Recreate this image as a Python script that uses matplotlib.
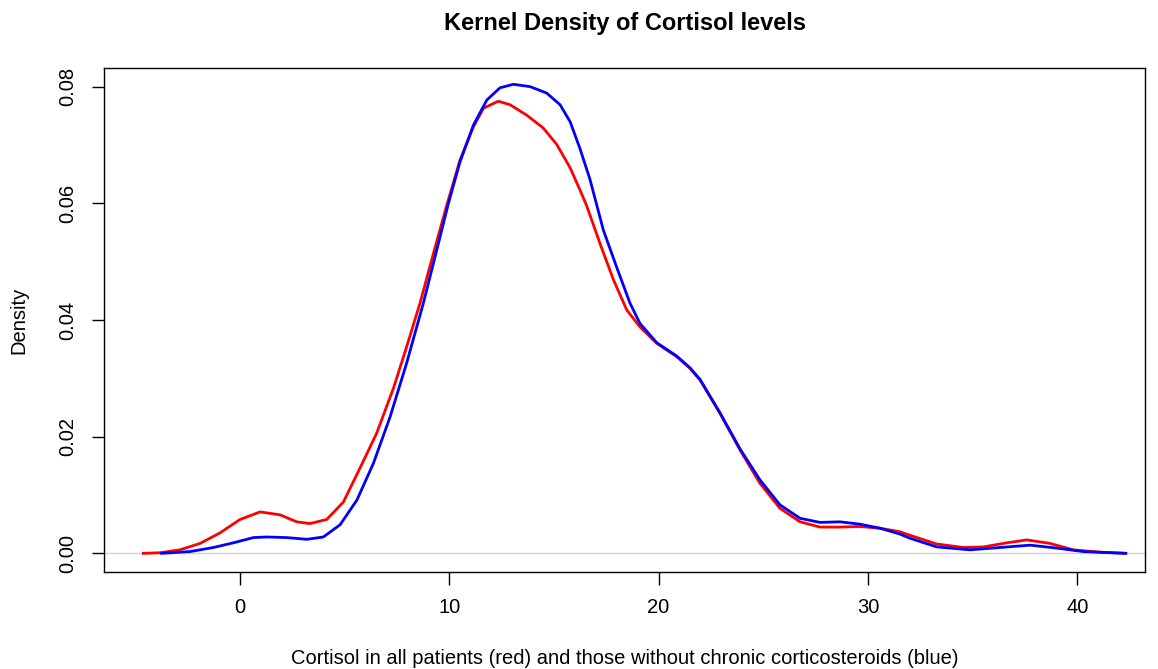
import matplotlib
matplotlib.use("Agg")
import matplotlib.pyplot as plt

plt.rcParams['font.family'] = ['Liberation Sans', 'DejaVu Sans']

# density of cortisol, all patients (red)
all_x = [-4.62, -3.82, -2.87, -1.91, -0.96, 0.0, 0.96, 1.91, 2.71, 3.34,
         4.14, 4.94, 5.73, 6.53, 7.33, 7.96, 8.6, 9.24, 9.88, 10.51,
         11.15, 11.63, 12.34, 12.9, 13.7, 14.49, 15.13, 15.77, 16.24, 16.56,
         17.2, 17.84, 18.48, 19.11, 19.91, 20.87, 21.5, 21.98, 22.93, 23.89,
         24.84, 25.8, 26.76, 27.71, 28.67, 29.62, 30.58, 31.53, 32.0, 33.29,
         34.56, 35.52, 36.63, 37.59, 38.7, 39.81, 41.09, 42.33]
all_y = [0.0, 0.0001, 0.0006, 0.0017, 0.0035, 0.0058, 0.0071, 0.0066, 0.0054, 0.0051,
         0.0058, 0.0088, 0.0146, 0.0206, 0.0283, 0.0354, 0.0429, 0.0514, 0.0597, 0.0674,
         0.0731, 0.0763, 0.0775, 0.0769, 0.0751, 0.0729, 0.0701, 0.0661, 0.0623, 0.0596,
         0.0531, 0.0469, 0.0417, 0.0388, 0.036, 0.0337, 0.0317, 0.0297, 0.024, 0.0177,
         0.012, 0.0077, 0.0054, 0.0045, 0.0045, 0.0046, 0.0043, 0.0037, 0.0031, 0.0016,
         0.001, 0.0011, 0.0018, 0.0023, 0.0017, 0.0006, 0.0002, 0.0]

# without chronic corticosteroids (blue)
nocs_x = [-3.74, -2.39, -1.27, -0.32, 0.64, 1.27, 2.23, 3.19, 3.98, 4.78,
          5.58, 6.37, 7.17, 7.96, 8.76, 9.4, 9.95, 10.51, 11.15, 11.79,
          12.42, 13.06, 13.86, 14.65, 15.29, 15.77, 16.24, 16.72, 17.36, 18.0,
          18.63, 19.11, 19.91, 20.87, 21.5, 21.98, 22.93, 23.89, 24.84, 25.8,
          26.76, 27.71, 28.67, 29.62, 30.58, 31.53, 32.0, 33.29, 34.88, 36.31,
          37.75, 39.02, 40.3, 42.3]
nocs_y = [0.0, 0.0003, 0.001, 0.0018, 0.0027, 0.0028, 0.0027, 0.0024, 0.0028, 0.0049,
          0.0091, 0.0154, 0.0234, 0.0326, 0.0429, 0.052, 0.0599, 0.0671, 0.0734, 0.0777,
          0.0798, 0.0804, 0.08, 0.0789, 0.0769, 0.074, 0.0694, 0.0641, 0.0554, 0.049,
          0.0429, 0.0394, 0.0361, 0.0338, 0.0318, 0.0298, 0.0241, 0.0179, 0.0126, 0.0083,
          0.006, 0.0053, 0.0054, 0.005, 0.0043, 0.0033, 0.0026, 0.0011, 0.0006, 0.001,
          0.0014, 0.0009, 0.0003, 0.0]

x_ticks = [0, 10, 20, 30, 40]
y_ticks = [0.00, 0.02, 0.04, 0.06, 0.08]

fig = plt.figure(figsize=(11.58, 6.69), dpi=100)
ax = fig.add_axes([0.0898, 0.145, 0.899, 0.7534])

ax.axhline(0, color='#d3d3d3', lw=1, zorder=1)
ax.plot(all_x, all_y, color='red', lw=2, zorder=2, solid_joinstyle='round')
ax.plot(nocs_x, nocs_y, color='blue', lw=2, zorder=3, solid_joinstyle='round')

ax.set_xlim(-6.5, 43.24)
ax.set_ylim(-0.0032, 0.0832)
ax.set_xticks(x_ticks)
ax.set_xticklabels([str(t) for t in x_ticks])
ax.set_yticks(y_ticks)
ax.set_yticklabels(['%.2f' % t for t in y_ticks], rotation=90, va='center')
ax.tick_params(axis='both', direction='out', length=9, width=1,
               labelsize=14.5, pad=10, colors='black')
for s in ax.spines.values():
    s.set_linewidth(1)

ax.set_title('Kernel Density of Cortisol levels', fontsize=17, fontweight='bold', pad=27)
ax.set_xlabel('Cortisol in all patients (red) and those without chronic corticosteroids (blue)',
              fontsize=14.5, labelpad=23)
ax.set_ylabel('Density', fontsize=14.5, labelpad=22)

fig.savefig('out.png', dpi=100)
